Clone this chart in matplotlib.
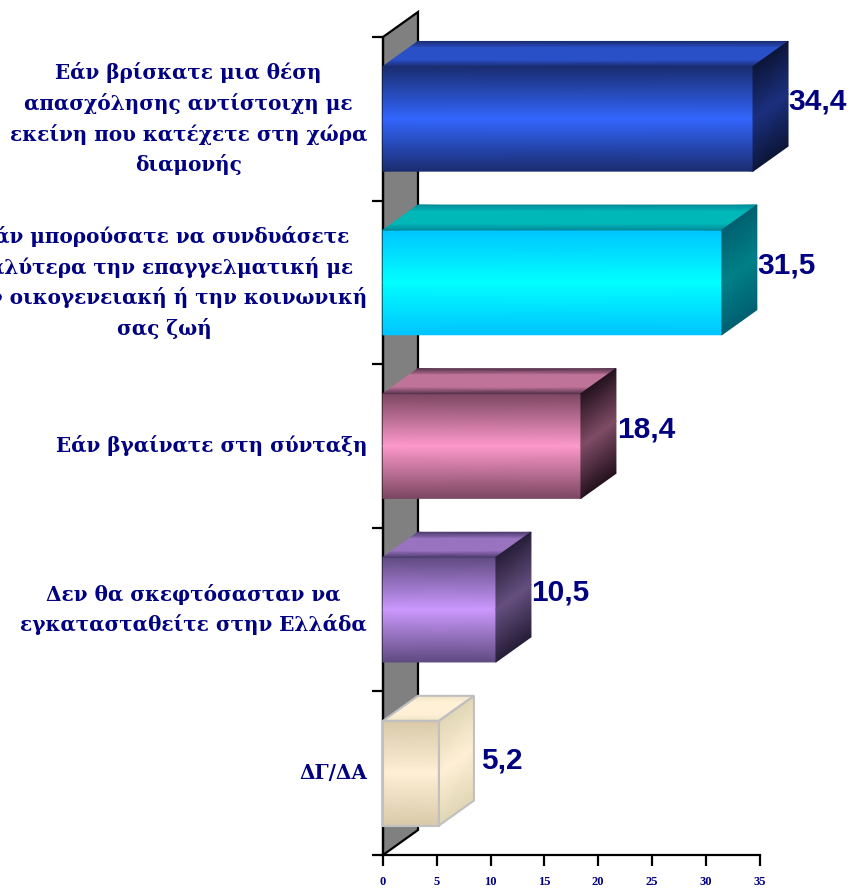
import numpy as np
import matplotlib
matplotlib.use("Agg")
import matplotlib.pyplot as plt
from matplotlib.colors import LinearSegmentedColormap
from matplotlib.patches import Polygon

categories = [
    "Εάν βρίσκατε μια θέση\nαπασχόλησης αντίστοιχη με\nεκείνη που κατέχετε στη χώρα\nδιαμονής",
    "Εάν μπορούσατε να συνδυάσετε\nκαλύτερα την επαγγελματική με\nτην οικογενειακή ή την κοινωνική\nσας ζωή",
    "Εάν βγαίνατε στη σύνταξη",
    "Δεν θα σκεφτόσασταν να\nεγκατασταθείτε στην Ελλάδα",
    "ΔΓ/ΔΑ",
]
values = [34.4, 31.5, 18.4, 10.5, 5.2]
value_labels = ["34,4", "31,5", "18,4", "10,5", "5,2"]
x_ticks = [0, 5, 10, 15, 20, 25, 30, 35]

# (edge, centre) colours of the gradient on each face
front_colors = [("#1a2c6e", "#3366ff"), ("#00c4ff", "#00ffff"), ("#7a4560", "#ff99cc"),
                ("#5e4a80", "#cc99ff"), ("#d8c9a8", "#fff0d6")]
top_colors = [("#1a2c6e", "#2a50c8"), ("#008a99", "#00b8b8"), ("#52304a", "#c07399"),
              ("#4a3a6c", "#9973bf"), ("#f0e4c4", "#fff0d6")]
side_colors = [("#0d1638", "#1c3080"), ("#006070", "#008088"), ("#24121e", "#804d66"),
               ("#261e38", "#665080"), ("#e0d6b4", "#fff0d6")]
edge_colors = [None, None, None, None, "#c0c0c0"]
label_nudge_px = [(0, -17), (0, -17), (1, -16), (0, -17), (7, -13)]

NAVY = "#000080"
BAR_H = 0.64
W, H = 848, 888
L, R, T, B = 383, 759.5, 37, 855
XMAX = 35
DX = 35 * XMAX / (R - L)     # depth in data units
DY = 25 * 5 / (B - T)

fig = plt.figure(figsize=(W / 100, H / 100), dpi=100, facecolor="white")
ax = fig.add_axes([L / W, 1 - B / H, (R - L) / W, (B - T) / H])
ax.patch.set_visible(False)


def face(p0, p1, p2, p3, colors, z, t=(0, 0.5, 1), c=(0, 0.5, 1)):
    """Gradient from edge p0-p1 to edge p3-p2 with the centre colour midway."""
    cmap = LinearSegmentedColormap.from_list("f", [colors[0], colors[1], colors[0]])
    X = np.array([[p0[0] + (p3[0] - p0[0]) * s, p1[0] + (p2[0] - p1[0]) * s] for s in t])
    Y = np.array([[p0[1] + (p3[1] - p0[1]) * s, p1[1] + (p2[1] - p1[1]) * s] for s in t])
    C = np.column_stack([c, c])
    ax.pcolormesh(X, Y, C, shading="gouraud", cmap=cmap, vmin=0, vmax=1,
                  clip_on=False, zorder=z)


# back wall
ax.add_patch(Polygon([(0, 4.5), (DX, 4.5 - DY), (DX, -0.5 - DY), (0, -0.5)], closed=True,
                     facecolor="#808080", edgecolor="black", lw=1.6, clip_on=False, zorder=1))

for i, v in enumerate(values):
    a, b = i - BAR_H / 2, i + BAR_H / 2
    z = 3 + i
    face((0, a), (v, a), (v, b), (0, b), front_colors[i], z)
    face((DX, a - DY), (v + DX, a - DY), (v, a), (0, a), top_colors[i], z,
         t=(0, 0.25, 0.75, 1), c=(0, 0.5, 0.5, 1))
    face((v, a), (v + DX, a - DY), (v + DX, b - DY), (v, b), side_colors[i], z)
    if edge_colors[i]:
        for pts in ([(0, a), (v, a), (v, b), (0, b)],
                    [(0, a), (DX, a - DY), (v + DX, a - DY), (v, a)],
                    [(v, a), (v + DX, a - DY), (v + DX, b - DY), (v, b)]):
            ax.add_patch(Polygon(pts, closed=True, fill=False, edgecolor=edge_colors[i],
                                 lw=1.5, clip_on=False, zorder=z + 0.5))
    nx, ny = label_nudge_px[i]
    ax.annotate(value_labels[i], xy=(v + DX, i), xycoords="data",
                xytext=(nx * 0.72, -ny * 0.72), textcoords="offset points",
                ha="left", va="center", color=NAVY, fontsize=21.5, fontweight="bold",
                family="Liberation Sans", annotation_clip=False, zorder=20)

ax.set_xlim(0, XMAX)
ax.set_ylim(4.5, -0.5)
for s in ("top", "right"):
    ax.spines[s].set_visible(False)
for s in ("left", "bottom"):
    ax.spines[s].set_linewidth(1.6)
    ax.spines[s].set_zorder(2)

ax.set_xticks(x_ticks)
ax.set_xticklabels([str(t) for t in x_ticks], family="Liberation Serif", fontweight="bold",
                   fontsize=9, color=NAVY)
ax.tick_params(axis="x", length=8, width=1.6, pad=7)

ax.set_yticks(np.arange(-0.5, 5, 1))
ax.set_yticklabels([])
ax.tick_params(axis="y", which="major", length=8, width=1.6)
ax.set_yticks(range(len(categories)), minor=True)
ax.set_yticklabels(categories, minor=True, family="DejaVu Serif", fontweight="bold",
                   fontsize=14.4, color=NAVY, linespacing=1.57, va="center")
ax.tick_params(axis="y", which="minor", length=0, pad=11.5)
for lab in ax.get_yticklabels(minor=True):
    lab.set_multialignment("center")
    lab.set_verticalalignment("center")

fig.savefig("out.png", dpi=100, facecolor="white")
